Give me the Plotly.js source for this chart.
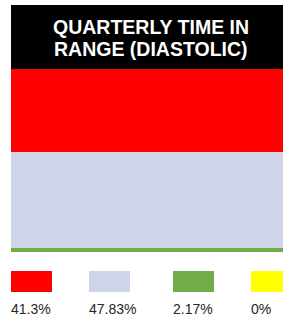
<!DOCTYPE html>
<html>
<head>
<meta charset="utf-8">
<script src="https://cdn.plot.ly/plotly-3.0.1.min.js"></script>
<style>html,body{margin:0;padding:0;background:#fff;}#chart{width:283px;height:336px;}</style>
</head>
<body>
<div id="chart"></div>
<script>
const categories = ["Above", "In Range", "Below", "Very Low"];
const values = [41.3, 47.83, 2.17, 0];
const labels = ["41.3%", "47.83%", "2.17%", "0%"];
const colors = ["#FF0000", "#CFD5E8", "#70AD47", "#FFFF00"];
const titleLines = ["QUARTERLY TIME IN", "RANGE (DIASTOLIC)"];

// stack bottom-up: reverse so first category is on top
const order = [3, 2, 1, 0];
const traces = order.map(i => ({
  type: "bar",
  x: ["Q"],
  y: [values[i]],
  name: categories[i],
  marker: {color: colors[i], line: {width: 0}},
  width: 1,
  hoverinfo: "none"
}));

const W = 272, H = 183;
const legendX = [0, 78, 162, 240];   // px offsets from plot left
const boxW = 41;
const shapes = [{
  type: "rect", xref: "paper", yref: "paper",
  x0: 0, x1: 1, y0: 1, y1: 1 + 64 / H,
  fillcolor: "#000000", line: {width: 0}
}];
const titleY = [42, 20];  // px above plot top (line centres)
const annotations = titleLines.map((t, k) => ({
  xref: "paper", yref: "paper", x: 0.515, y: 1 + titleY[k] / H,
  text: t, showarrow: false, xanchor: "center", yanchor: "middle",
  font: {family: "Liberation Sans, Arial, sans-serif", size: 19.5, color: "#FFFFFF", weight: "bold"}
}));
categories.forEach((c, i) => {
  shapes.push({
    type: "rect", xref: "paper", yref: "paper",
    x0: legendX[i] / W, x1: (legendX[i] + boxW) / W,
    y0: -19 / H, y1: -40 / H,
    fillcolor: colors[i], line: {width: 0}
  });
  annotations.push({
    xref: "paper", yref: "paper", x: legendX[i] / W, y: -57 / H,
    text: labels[i], showarrow: false, xanchor: "left", yanchor: "middle",
    xshift: -2,
    font: {family: "Liberation Sans, Arial, sans-serif", size: 14, color: "#262626"}
  });
});

const total = values.reduce((a, b) => a + b, 0);
Plotly.newPlot("chart", traces, {
  width: 283, height: 336,
  margin: {l: 11, r: 0, t: 69, b: 84, pad: 0},
  barmode: "stack",
  bargap: 0,
  showlegend: false,
  paper_bgcolor: "#FFFFFF",
  plot_bgcolor: "#FFFFFF",
  xaxis: {visible: false, range: [-0.5, 0.5], fixedrange: true},
  yaxis: {visible: false, range: [0, total], fixedrange: true},
  shapes: shapes,
  annotations: annotations
}, {displayModeBar: false, staticPlot: true});
</script>
</body>
</html>
